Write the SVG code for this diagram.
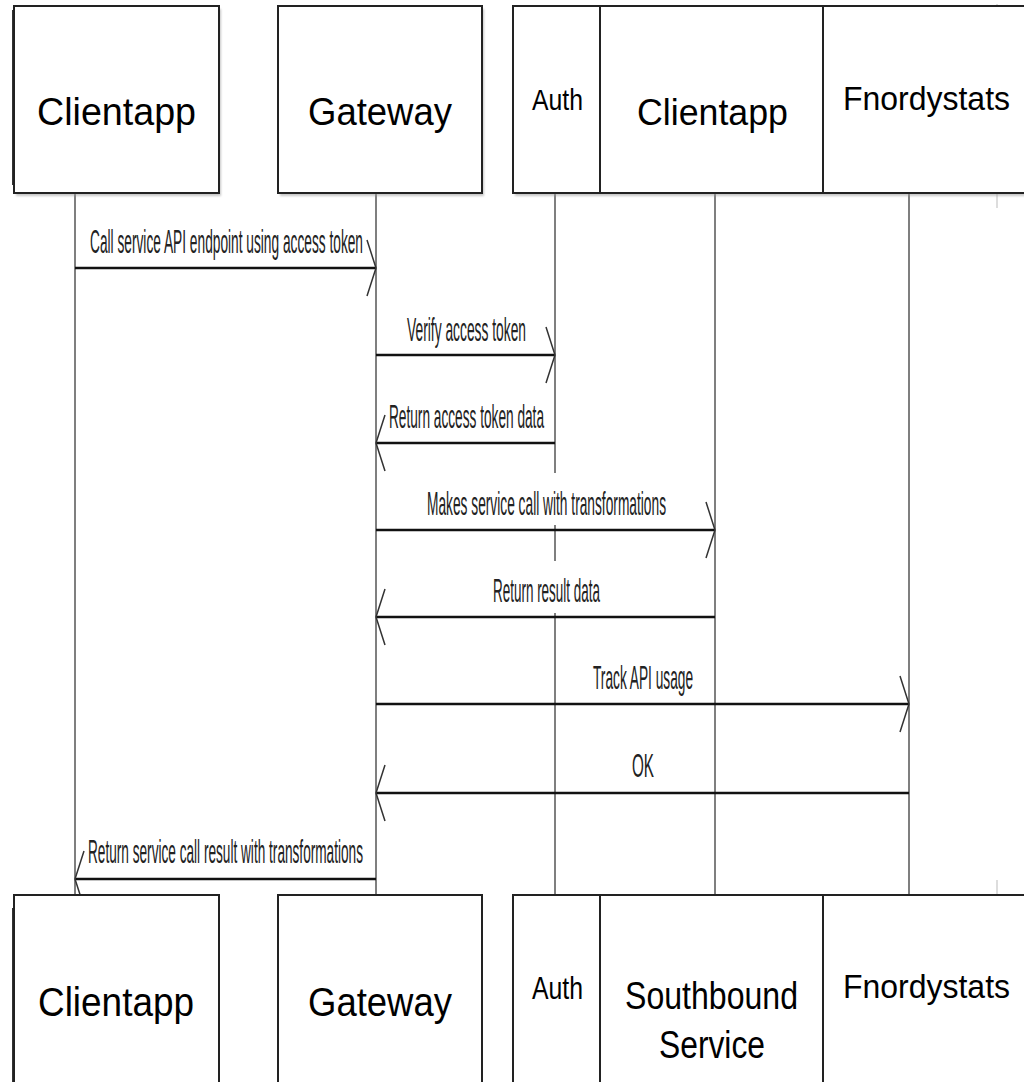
<svg xmlns="http://www.w3.org/2000/svg" width="1024" height="1082" viewBox="0 0 1024 1082">
  <style>
    .box { fill: #fff; stroke: #222; stroke-width: 2; }
    .div { stroke: #222; stroke-width: 2; }
    .shadow { fill: #999; opacity: 0.55; }
    .life { stroke: #555; stroke-width: 1.5; }
    .msg { stroke: #111; stroke-width: 2.5; fill: none; marker-end: url(#open); }
    .faint { stroke: #bbb; stroke-width: 1; }
    .name { font-family: "Liberation Sans", Arial, sans-serif; fill: #000; }
    .lbl { font-family: "Liberation Sans", Arial, sans-serif; font-size: 34px; fill: #222; }
    .mask { fill: #fff; }
  </style>
  <defs>
    <filter id="soft" x="-5%" y="-5%" width="110%" height="110%">
      <feGaussianBlur stdDeviation="1.2"/>
    </filter>
    <marker id="open" markerUnits="userSpaceOnUse" viewBox="0 0 12 60" markerWidth="12" markerHeight="60" refX="10" refY="30" orient="auto" overflow="visible">
      <path d="M1,2 L10,30 L1,58" fill="none" stroke="#333" stroke-width="1.5"/>
    </marker>
  </defs>

  <!-- lifelines -->
  <g id="lifelines">
    <line class="life" x1="75" y1="193" x2="75" y2="895"/>
    <line class="life" x1="376" y1="193" x2="376" y2="895"/>
    <line class="life" x1="555" y1="193" x2="555" y2="895"/>
    <line class="life" x1="715" y1="193" x2="715" y2="895"/>
    <line class="life" x1="909" y1="193" x2="909" y2="895"/>
    <line class="faint" x1="997" y1="4" x2="997" y2="208"/>
    <line class="faint" x1="997" y1="880" x2="997" y2="895"/>
  </g>

  <!-- top participants -->
  <g id="top-clientapp">
    <rect class="shadow" x="16" y="9" width="205" height="187" filter="url(#soft)"/>
    <line x1="12.5" y1="10" x2="12.5" y2="185" stroke="#333" stroke-width="1"/>
    <rect class="box" x="14" y="6" width="205" height="187"/>
    <text class="name" x="116.5" y="125" font-size="38" text-anchor="middle" textLength="159" lengthAdjust="spacingAndGlyphs">Clientapp</text>
  </g>
  <g id="top-gateway">
    <rect class="shadow" x="280" y="9" width="204" height="187" filter="url(#soft)"/>
    <rect class="box" x="278" y="6" width="204" height="187"/>
    <text class="name" x="380" y="125" font-size="38" text-anchor="middle" textLength="144" lengthAdjust="spacingAndGlyphs">Gateway</text>
  </g>
  <g id="top-services">
    <rect class="shadow" x="515" y="9" width="520" height="187" filter="url(#soft)"/>
    <rect class="box" x="513" y="6" width="520" height="187"/>
    <line class="div" x1="600" y1="6" x2="600" y2="193"/>
    <line class="div" x1="823" y1="6" x2="823" y2="193"/>
    <text class="name" x="532" y="110" font-size="30" textLength="51" lengthAdjust="spacingAndGlyphs">Auth</text>
    <text class="name" x="637" y="125" font-size="37" textLength="151" lengthAdjust="spacingAndGlyphs">Clientapp</text>
    <text class="name" x="843" y="110" font-size="34" textLength="167" lengthAdjust="spacingAndGlyphs">Fnordystats</text>
  </g>

  <!-- messages -->
  <g id="messages">
    <line class="msg" x1="75" y1="268" x2="376" y2="268"/>
    <text class="lbl" x="90" y="253" font-size="32" textLength="273" lengthAdjust="spacingAndGlyphs">Call service API endpoint using access token</text>

    <line class="msg" x1="376" y1="355" x2="555" y2="355"/>
    <text class="lbl" x="407" y="341" font-size="36" textLength="119" lengthAdjust="spacingAndGlyphs">Verify access token</text>

    <line class="msg" x1="555" y1="443" x2="376" y2="443"/>
    <text class="lbl" x="389" y="428" font-size="35" textLength="155" lengthAdjust="spacingAndGlyphs">Return access token data</text>

    <rect class="mask" x="420" y="473" width="252" height="52"/>
    <line class="msg" x1="376" y1="530" x2="715" y2="530"/>
    <text class="lbl" x="427" y="515" font-size="36" textLength="239" lengthAdjust="spacingAndGlyphs">Makes service call with transformations</text>

    <rect class="mask" x="488" y="561" width="118" height="52"/>
    <line class="msg" x1="715" y1="617" x2="376" y2="617"/>
    <text class="lbl" x="493" y="602" font-size="35" textLength="107" lengthAdjust="spacingAndGlyphs">Return result data</text>

    <line class="msg" x1="376" y1="704" x2="909" y2="704"/>
    <text class="lbl" x="593" y="689" font-size="36" textLength="100" lengthAdjust="spacingAndGlyphs">Track API usage</text>

    <line class="msg" x1="909" y1="793" x2="376" y2="793"/>
    <text class="lbl" x="632" y="777" font-size="29" textLength="22" lengthAdjust="spacingAndGlyphs">OK</text>

    <line class="msg" x1="376" y1="879" x2="75" y2="879"/>
    <text class="lbl" x="88" y="863" font-size="35" textLength="275" lengthAdjust="spacingAndGlyphs">Return service call result with transformations</text>
  </g>

  <!-- bottom participants -->
  <g id="bottom-clientapp">
    <line x1="12.5" y1="908" x2="12.5" y2="1082" stroke="#333" stroke-width="1"/>
    <rect class="box" x="14" y="895" width="205" height="200"/>
    <text class="name" x="116" y="1016" font-size="40" text-anchor="middle" textLength="156" lengthAdjust="spacingAndGlyphs">Clientapp</text>
  </g>
  <g id="bottom-gateway">
    <rect class="box" x="278" y="895" width="204" height="200"/>
    <text class="name" x="380" y="1016" font-size="40" text-anchor="middle" textLength="144" lengthAdjust="spacingAndGlyphs">Gateway</text>
  </g>
  <g id="bottom-services">
    <rect class="box" x="513" y="895" width="520" height="200"/>
    <line class="div" x1="600" y1="895" x2="600" y2="1082"/>
    <line class="div" x1="823" y1="895" x2="823" y2="1082"/>
    <text class="name" x="532" y="999" font-size="31" textLength="51" lengthAdjust="spacingAndGlyphs">Auth</text>
    <text class="name" x="625" y="1009" font-size="38" textLength="173" lengthAdjust="spacingAndGlyphs">Southbound</text>
    <text class="name" x="659" y="1058" font-size="38" textLength="106" lengthAdjust="spacingAndGlyphs">Service</text>
    <text class="name" x="843" y="998" font-size="34" textLength="167" lengthAdjust="spacingAndGlyphs">Fnordystats</text>
  </g>
</svg>
